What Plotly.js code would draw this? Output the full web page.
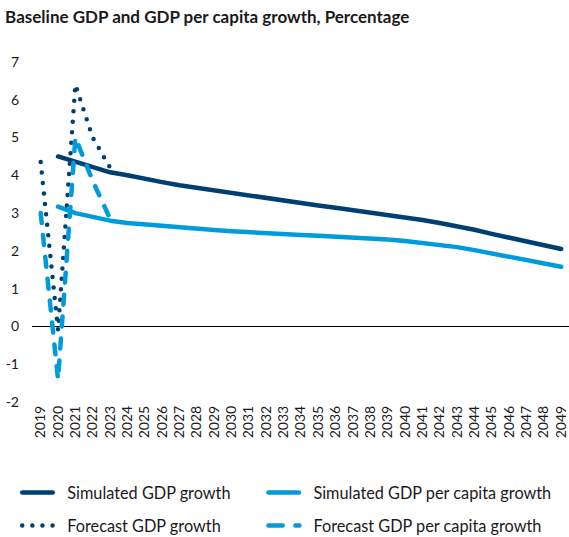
<!DOCTYPE html>
<html>
<head>
<meta charset="utf-8">
<script src="https://cdn.plot.ly/plotly-3.0.1.min.js"></script>
<style>
html,body{margin:0;padding:0;background:#fff;}
#chart{width:569px;height:537px;}
.js-line{stroke-linecap:round;stroke-linejoin:round;}
g.legend path.js-line, g.legend2 path.js-line{stroke-dasharray:30.5px,100px !important;}
g.legend3 path.js-line{stroke-dasharray:0px,10.1px !important;}
g.legend4 path.js-line{stroke-dasharray:14.25px,12.75px,4px,100px !important;}
</style>
</head>
<body>
<div id="chart"></div>
<script>
const years = [2019,2020,2021,2022,2023,2024,2025,2026,2027,2028,2029,2030,2031,2032,2033,2034,2035,2036,2037,2038,2039,2040,2041,2042,2043,2044,2045,2046,2047,2048,2049];
const yearLabels = years.map(String);
const simulatedGDP = [null,4.5,4.35,4.2,4.08,4.0,3.9,3.82,3.74,3.67,3.6,3.52,3.45,3.38,3.32,3.26,3.2,3.14,3.08,3.02,2.96,2.9,2.82,2.74,2.66,2.56,2.45,2.35,2.25,2.15,2.05];
const simulatedGDPpc = [null,3.17,3.0,2.9,2.8,2.74,2.7,2.65,2.61,2.58,2.55,2.52,2.49,2.46,2.44,2.42,2.4,2.38,2.36,2.33,2.3,2.26,2.21,2.16,2.1,2.02,1.93,1.84,1.76,1.67,1.58];
const forecastYears = [2019,2020,2021,2022,2023];
const forecastGDP = [4.35,-0.1,6.4,5.0,4.2];
const forecastGDPpc = [3.0,-1.4,5.0,3.85,2.85];
const yTicks = [-2,-1,0,1,2,3,4,5,6,7];

const navy = '#003f72';
const blue = '#009bdb';

const traces = [
  {x: years, y: simulatedGDP, name: 'Simulated GDP growth', type: 'scatter', mode: 'lines',
   line: {color: navy, width: 4.5}, cliponaxis: false, legend: 'legend'},
  {x: years, y: simulatedGDPpc, name: 'Simulated GDP per capita growth', type: 'scatter', mode: 'lines',
   line: {color: blue, width: 4.5}, cliponaxis: false, legend: 'legend2'},
  {x: forecastYears, y: forecastGDP, name: 'Forecast GDP growth', type: 'scatter', mode: 'lines',
   line: {color: navy, width: 4.5, dash: '0px,10.5px'}, cliponaxis: false, legend: 'legend3'},
  {x: forecastYears, y: forecastGDPpc, name: 'Forecast GDP per capita growth', type: 'scatter', mode: 'lines',
   line: {color: blue, width: 4.5, dash: '10px,12px'}, cliponaxis: false, legend: 'legend4'}
];

const legendBase = {orientation: 'h', xref: 'container', yref: 'container', xanchor: 'left', yanchor: 'middle',
  itemwidth: 40, font: {size: 16.3, color: '#1a1a1a'}, bgcolor: 'rgba(0,0,0,0)'};
const col1 = 0.0303, col2 = 0.463;
const row1 = (537 - 493) / 537, row2 = (537 - 526) / 537;

const layout = {
  width: 569, height: 537,
  margin: {l: 32, r: 0, t: 62, b: 135, pad: 0},
  paper_bgcolor: '#fff', plot_bgcolor: '#fff',
  font: {family: 'Lato, "Noto Sans", sans-serif', size: 14, color: '#1a1a1a'},
  title: {text: '<b>Baseline GDP and GDP per capita growth, Percentage</b>',
          x: 0.009, xanchor: 'left', y: 0.968, yanchor: 'middle', xref: 'container',
          font: {family: 'Lato, "Noto Sans", sans-serif', size: 17, color: '#1a1a1a'}},
  xaxis: {type: 'linear', range: [2018.5, 2049.45], tickvals: years, ticktext: yearLabels,
          tickangle: -90, showgrid: false, zeroline: false, showline: false, ticks: '',
          ticklabeloverflow: 'allow', automargin: false,
          tickfont: {size: 14, color: '#1a1a1a'}, fixedrange: true},
  yaxis: {range: [-2, 7], tickvals: yTicks, ticktext: yTicks.map(String), showgrid: false,
          zeroline: true, zerolinecolor: '#000', zerolinewidth: 1, showline: false, ticks: '',
          ticklabelstandoff: 12, automargin: false, tickfont: {size: 14, color: '#1a1a1a'}, fixedrange: true},
  showlegend: true,
  legend: Object.assign({}, legendBase, {x: col1, y: row1}),
  legend2: Object.assign({}, legendBase, {x: col2, y: row1}),
  legend3: Object.assign({}, legendBase, {x: col1, y: row2}),
  legend4: Object.assign({}, legendBase, {x: col2, y: row2})
};

Plotly.newPlot('chart', traces, layout, {displayModeBar: false, staticPlot: true});
</script>
</body>
</html>
